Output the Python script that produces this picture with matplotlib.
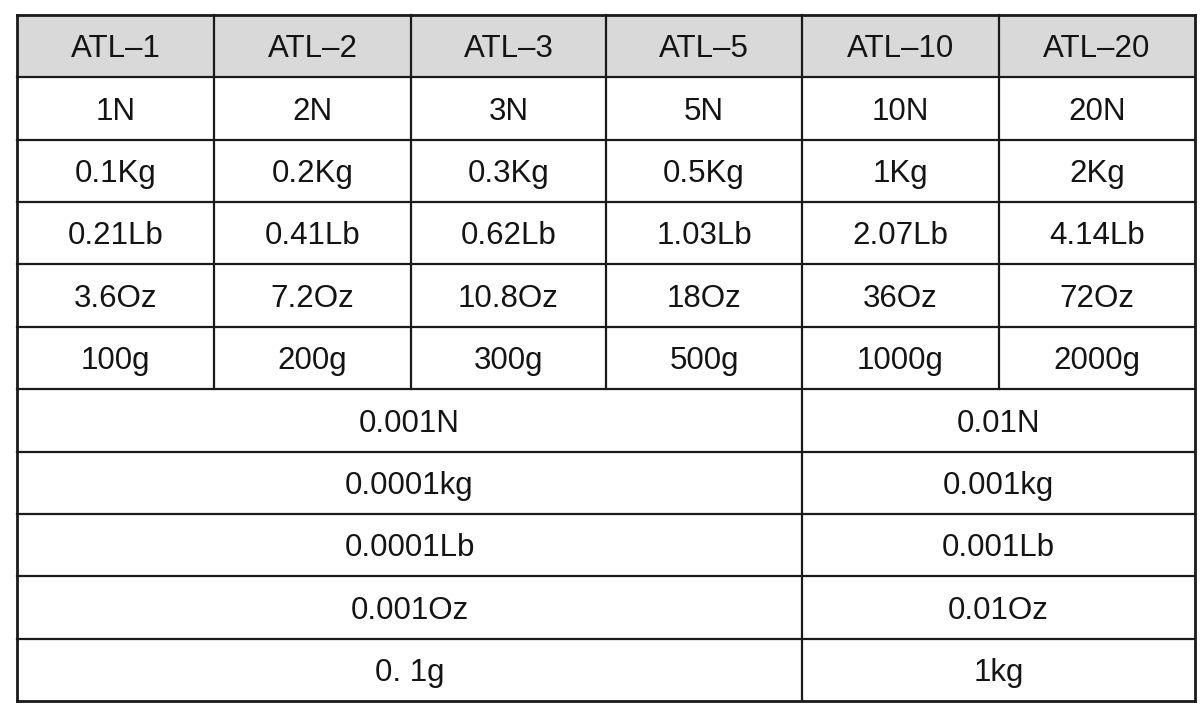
import matplotlib
matplotlib.use("Agg")
import matplotlib.pyplot as plt
from matplotlib.patches import Rectangle

models = ["ATL–1", "ATL–2", "ATL–3", "ATL–5", "ATL–10", "ATL–20"]
capacity_N = ["1N", "2N", "3N", "5N", "10N", "20N"]
capacity_kg = ["0.1Kg", "0.2Kg", "0.3Kg", "0.5Kg", "1Kg", "2Kg"]
capacity_lb = ["0.21Lb", "0.41Lb", "0.62Lb", "1.03Lb", "2.07Lb", "4.14Lb"]
capacity_oz = ["3.6Oz", "7.2Oz", "10.8Oz", "18Oz", "36Oz", "72Oz"]
capacity_g = ["100g", "200g", "300g", "500g", "1000g", "2000g"]
# resolution rows: (value for ATL-1..ATL-5, value for ATL-10..ATL-20)
res_N = ["0.001N", "0.01N"]
res_kg = ["0.0001kg", "0.001kg"]
res_lb = ["0.0001Lb", "0.001Lb"]
res_oz = ["0.001Oz", "0.01Oz"]
res_g = ["0. 1g", "1kg"]

full_rows = [capacity_N, capacity_kg, capacity_lb, capacity_oz, capacity_g]
split_rows = [res_N, res_kg, res_lb, res_oz, res_g]

# layout (pixels)
col_edges = [17, 214, 411, 606, 802, 999, 1195]
top, bottom = 15, 701
n_rows = 1 + len(full_rows) + len(split_rows)
row_h = (bottom - top) / n_rows
split_col = 4  # split at the edge between ATL-5 and ATL-10

W, H = 1200, 708
fig = plt.figure(figsize=(W / 100, H / 100), dpi=100)
ax = fig.add_axes([0, 0, 1, 1])
ax.set_xlim(0, W)
ax.set_ylim(H, 0)
ax.axis("off")

font = dict(family=["Liberation Sans", "DejaVu Sans"], fontsize=22.5, color="#141414")
line_col = "#1a1a1a"
lw = 1.6
cap_half = 11.2

def put(x, yc, s):
    ax.text(x, yc + cap_half, s, ha="center", va="baseline", **font)

# header background
ax.add_patch(Rectangle((col_edges[0], top), col_edges[-1] - col_edges[0], row_h,
                       facecolor="#d9d9d9", edgecolor="none", zorder=0))

# header + full rows
for r, row in enumerate([models] + full_rows):
    yc = top + row_h * (r + 0.5)
    for c, s in enumerate(row):
        put((col_edges[c] + col_edges[c + 1]) / 2, yc, s)

# split rows
n_top = 1 + len(full_rows)
for i, row in enumerate(split_rows):
    yc = top + row_h * (n_top + i + 0.5)
    put((col_edges[0] + col_edges[split_col]) / 2, yc, row[0])
    put((col_edges[split_col] + col_edges[-1]) / 2, yc, row[1])

# horizontal lines
for r in range(n_rows + 1):
    y = top + row_h * r
    w = 2.0 if r in (0, n_rows) else lw
    ax.plot([col_edges[0], col_edges[-1]], [y, y], color=line_col, lw=w,
            solid_capstyle="projecting")

# vertical lines
y_split = top + row_h * n_top
for c, x in enumerate(col_edges):
    if c in (0, len(col_edges) - 1):
        ax.plot([x, x], [top, bottom], color=line_col, lw=2.0, solid_capstyle="projecting")
    elif c == split_col:
        ax.plot([x, x], [top, bottom], color=line_col, lw=lw)
    else:
        ax.plot([x, x], [top, y_split], color=line_col, lw=lw)

fig.savefig("out.png", dpi=100, facecolor="white")
